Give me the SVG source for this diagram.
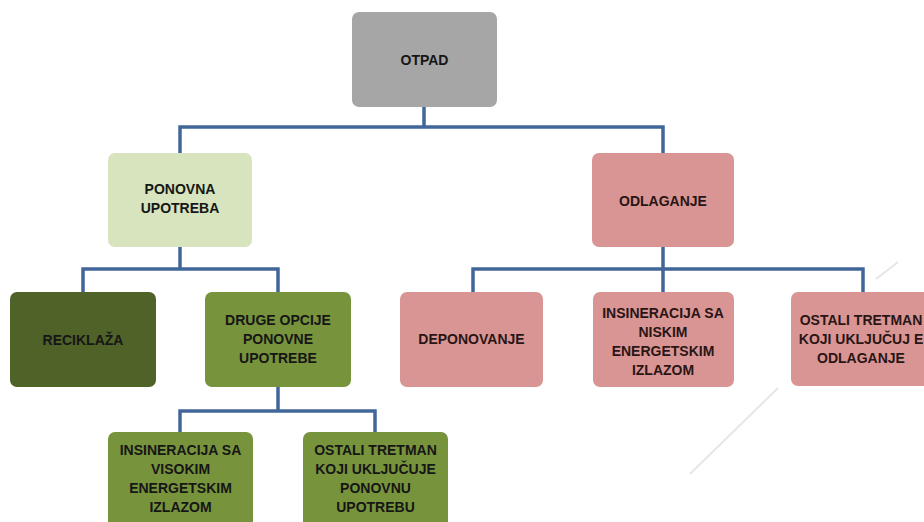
<svg xmlns="http://www.w3.org/2000/svg" width="924" height="522" viewBox="0 0 924 522">
<defs>
<style>
.box{rx:7;ry:7}
.gray{fill:#a6a6a6}
.light{fill:#d7e4bd}
.dark{fill:#4f6228}
.mid{fill:#77933c}
.pink{fill:#d99594}
.t{font-family:"Liberation Sans",Arial,sans-serif;font-weight:bold;font-size:14px;fill:#161616;text-anchor:middle}
.tp{fill:#2a1515}
.conn{fill:none;stroke:#41679a;stroke-width:3.5;stroke-linejoin:miter}
.deco{fill:none;stroke:#e6e6e6;stroke-width:2}
</style>
</defs>
<rect width="924" height="522" fill="#ffffff"/>
<g id="decoration">
<path class="deco" d="M690 474 L778 388"/>
<path class="deco" d="M876 279 L898 262"/>
</g>
<g id="connectors">
<path class="conn" d="M424 107 V127 M180 153 V127 H663 V153"/>
<path class="conn" d="M180 247 V269 M83 292 V269 H278 V292"/>
<path class="conn" d="M278 387 V411 M180 432 V411 H375 V432"/>
<path class="conn" d="M663 247 V269 M473 292 V269 H863 V292 M663 269 V292"/>
</g>
<g id="otpad">
<rect class="box gray" x="352" y="12" width="145" height="95"/>
<text class="t" x="424.5" y="65">OTPAD</text>
</g>
<g id="ponovna-upotreba">
<rect class="box light" x="108" y="153" width="144" height="94"/>
<text class="t" x="180" y="194">PONOVNA</text>
<text class="t" x="180" y="213">UPOTREBA</text>
</g>
<g id="odlaganje">
<rect class="box pink" x="592" y="153" width="142" height="94"/>
<text class="t tp" x="663" y="206">ODLAGANJE</text>
</g>
<g id="reciklaza">
<rect class="box dark" x="10" y="292" width="146" height="95"/>
<text class="t" x="83" y="345">RECIKLAŽA</text>
</g>
<g id="druge-opcije">
<rect class="box mid" x="205" y="292" width="146" height="95"/>
<text class="t" x="278" y="325">DRUGE OPCIJE</text>
<text class="t" x="278" y="344">PONOVNE</text>
<text class="t" x="278" y="363">UPOTREBE</text>
</g>
<g id="deponovanje">
<rect class="box pink" x="400" y="292" width="143" height="95"/>
<text class="t tp" x="471.5" y="344">DEPONOVANJE</text>
</g>
<g id="insineracija-nisko">
<rect class="box pink" x="593" y="292" width="141" height="95"/>
<text class="t tp" x="663" y="318">INSINERACIJA SA</text>
<text class="t tp" x="663" y="337">NISKIM</text>
<text class="t tp" x="663" y="356">ENERGETSKIM</text>
<text class="t tp" x="663" y="375">IZLAZOM</text>
</g>
<g id="ostali-odlaganje">
<rect class="box pink" x="791" y="292" width="150" height="94"/>
<text class="t tp" x="861" y="325">OSTALI TRETMAN</text>
<text class="t tp" x="861" y="344">KOJI UKLJUČUJ E</text>
<text class="t tp" x="861" y="363">ODLAGANJE</text>
</g>
<g id="insineracija-visoko">
<rect class="box mid" x="108" y="432" width="145" height="100"/>
<text class="t" x="180.5" y="455">INSINERACIJA SA</text>
<text class="t" x="180.5" y="474">VISOKIM</text>
<text class="t" x="180.5" y="493">ENERGETSKIM</text>
<text class="t" x="180.5" y="512">IZLAZOM</text>
</g>
<g id="ostali-ponovna">
<rect class="box mid" x="303" y="432" width="145" height="100"/>
<text class="t" x="375.5" y="455">OSTALI TRETMAN</text>
<text class="t" x="375.5" y="474">KOJI UKLJUČUJE</text>
<text class="t" x="375.5" y="493">PONOVNU</text>
<text class="t" x="375.5" y="512">UPOTREBU</text>
</g>
</svg>
